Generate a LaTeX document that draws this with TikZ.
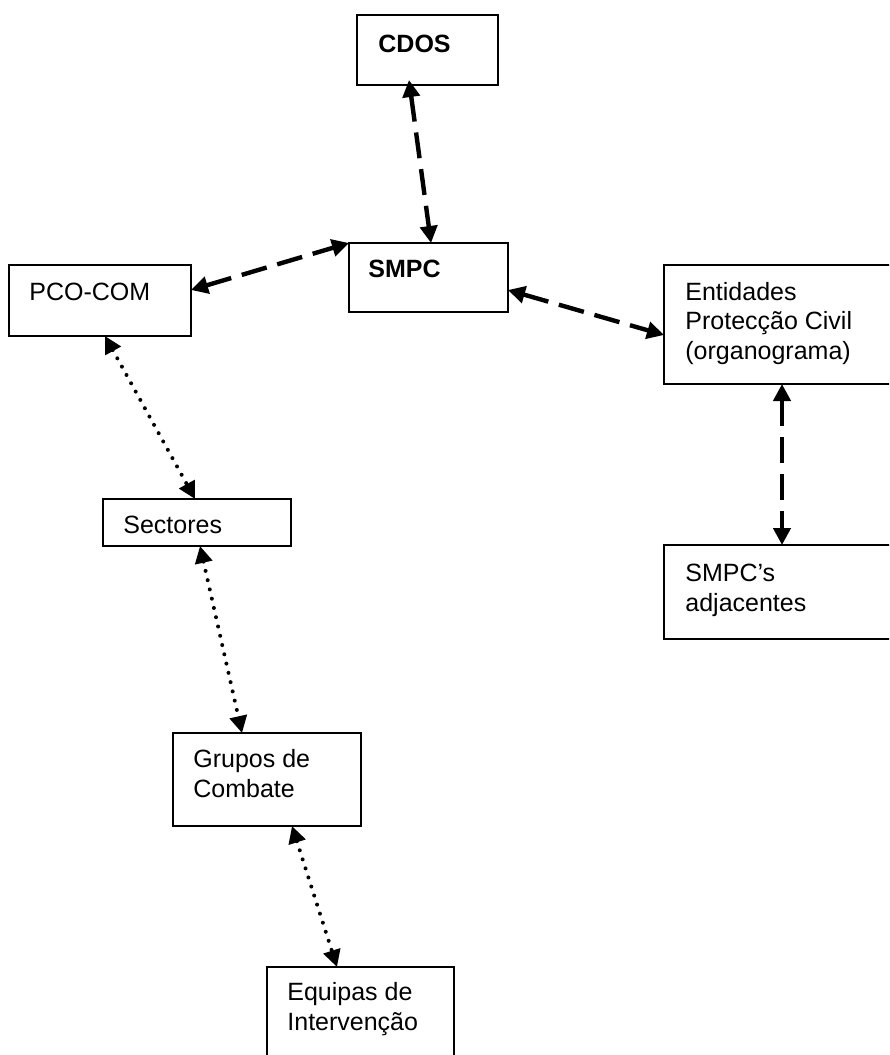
\documentclass[tikz,border=0pt]{standalone}
\usepackage{fontspec}
\setmainfont{Liberation Sans}
\usetikzlibrary{arrows.meta,calc}
\tikzset{
  box/.style={draw=black, line width=1pt, rectangle, inner sep=0pt, outer sep=0pt, anchor=north west},
  lbl/.style={anchor=base west, inner sep=0pt, align=left, font=\fontsize{12.5pt}{14.6pt}\selectfont},
  tip/.tip={Triangle[length=8.5pt,width=8.5pt]},
  dashlink/.style={line width=2.2pt, dash pattern=on 13pt off 5.5pt, {tip}-{tip}},
  dotlink/.style={line width=2pt, line cap=round, dash pattern=on 0pt off 4.75pt, {tip}-{tip}}
}
\begin{document}
\begin{tikzpicture}[x=0.5pt,y=-0.5pt]
\useasboundingbox (0,0) rectangle (889,1055);
\clip (0,0) rectangle (889,1055);
% boxes
\node[box, minimum width=70.5pt, minimum height=35pt] (cdos) at (357,15) {};
\node[box, minimum width=79.5pt, minimum height=34.5pt] (smpc) at (349,243) {};
\node[box, minimum width=91pt, minimum height=35.5pt] (pco) at (9,265) {};
\node[box, minimum width=118pt, minimum height=59.5pt] (ent) at (664,265) {};
\node[box, minimum width=118pt, minimum height=47pt] (adj) at (664,545) {};
\node[box, minimum width=94pt, minimum height=23.5pt] (sect) at (103,499) {};
\node[box, minimum width=94pt, minimum height=46.5pt] (grp) at (173,733) {};
\node[box, minimum width=93.5pt, minimum height=55pt] (eq) at (267,967) {};
% texts (base = baseline of the last line)
\node[lbl] (cdos-t) at (378,52) {\textbf{CDOS}};
\node[lbl] (smpc-t) at (368,277) {\textbf{SMPC}};
\node[lbl] (pco-t) at (29,300) {PCO-COM};
\node[lbl] (ent-t) at (685,359) {Entidades\\Protecção Civil\\(organograma)};
\node[lbl] (adj-t) at (685,611) {SMPC’s\\adjacentes};
\node[lbl] (sect-t) at (123,533) {Sectores};
\node[lbl] (grp-t) at (193,797) {Grupos de\\Combate};
\node[lbl] (eq-t) at (287,1030) {Equipas de\\Intervenção};
% connectors
\draw[dashlink] ($(cdos.south west)+(52,-5)$) -- ($(smpc.north west)+(82,0)$);
\draw[dashlink] ($(pco.north east)+(0,25)$) -- (smpc.north west);
\draw[dashlink] ($(smpc.north east)+(0,47)$) -- ($(ent.north west)+(0,70)$);
\draw[dashlink] ($(ent.south west)+(118,0)$) -- ($(adj.north west)+(118,0)$);
\draw[dotlink] ($(pco.south west)+(96,0)$) -- ($(sect.north west)+(92,0)$);
\draw[dotlink] ($(sect.south west)+(97,0)$) -- ($(grp.north west)+(69,0)$);
\draw[dotlink] ($(grp.south west)+(119,0)$) -- ($(eq.north west)+(70,0)$);
\end{tikzpicture}
\end{document}
